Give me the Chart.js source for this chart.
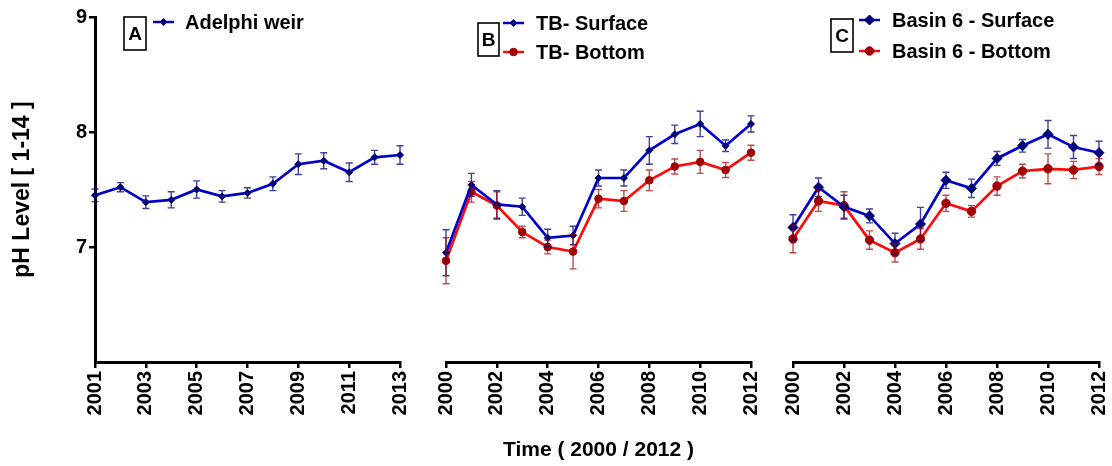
<!DOCTYPE html>
<html>
<head>
<meta charset="utf-8">
<title>pH Level</title>
<script src="https://cdn.jsdelivr.net/npm/chart.js@4.4.1/dist/chart.umd.min.js"></script>
<style>
  html, body { margin: 0; padding: 0; background: #fff; overflow: hidden; }
  #wrap { position: relative; width: 1112px; height: 466px; overflow: hidden; }
  #wrap canvas { position: absolute; left: 0; top: 0; }
</style>
</head>
<body>
<div id="wrap">
  <canvas id="chartA" width="1112" height="466"></canvas>
  <canvas id="chartB" width="1112" height="466"></canvas>
  <canvas id="chartC" width="1140" height="466"></canvas>
</div>
<script>
// years sampled at each site
const yearsA = [2001, 2002, 2003, 2004, 2005, 2006, 2007, 2008, 2009, 2010, 2011, 2012, 2013];
const yearsBC = [2000, 2001, 2002, 2003, 2004, 2005, 2006, 2007, 2008, 2009, 2010, 2011, 2012];

// tick labels
const ticksA = [2001, 2003, 2005, 2007, 2009, 2011, 2013];
const ticksBC = [2000, 2002, 2004, 2006, 2008, 2010, 2012];
const ticksPH = [7, 8, 9];

// A - Adelphi weir (mean pH and error)
const phAdelphi = [7.45, 7.52, 7.39, 7.41, 7.50, 7.44, 7.47, 7.55, 7.72, 7.75, 7.65, 7.78, 7.80];
const errAdelphi = [0.055, 0.04, 0.055, 0.07, 0.075, 0.05, 0.045, 0.06, 0.09, 0.07, 0.08, 0.06, 0.08];

// B - TB surface / bottom
const phTbSurface = [6.95, 7.54, 7.37, 7.35, 7.08, 7.10, 7.60, 7.60, 7.84, 7.98, 8.07, 7.88, 8.07];
const errTbSurface = [0.2, 0.10, 0.12, 0.075, 0.075, 0.08, 0.07, 0.07, 0.12, 0.08, 0.11, 0.05, 0.07];
const phTbBottom = [6.88, 7.48, 7.36, 7.13, 7.00, 6.96, 7.42, 7.40, 7.58, 7.70, 7.74, 7.67, 7.82];
const errTbBottom = [0.2, 0.09, 0.12, 0.05, 0.06, 0.15, 0.08, 0.09, 0.09, 0.065, 0.10, 0.065, 0.065];

// C - Basin 6 surface / bottom
const phBasinSurface = [7.17, 7.52, 7.35, 7.27, 7.03, 7.20, 7.58, 7.51, 7.77, 7.88, 7.98, 7.87, 7.82];
const errBasinSurface = [0.11, 0.08, 0.10, 0.06, 0.09, 0.145, 0.07, 0.08, 0.06, 0.055, 0.12, 0.10, 0.10];
const phBasinBottom = [7.07, 7.40, 7.36, 7.06, 6.95, 7.07, 7.38, 7.31, 7.53, 7.66, 7.68, 7.67, 7.70];
const errBasinBottom = [0.12, 0.09, 0.12, 0.08, 0.08, 0.09, 0.07, 0.05, 0.08, 0.06, 0.13, 0.075, 0.07];

const FONT = "'Liberation Sans', Arial, Helvetica, sans-serif";
Chart.defaults.font.family = FONT;
Chart.defaults.color = '#000';

const BLUE_LINE = '#0000cc';
const BLUE_MARK = '#00007a';
const RED_LINE = '#ff0a0a';
const RED_MARK = '#a00000';

const points = (xs, ys) => xs.map((x, i) => ({ x: x, y: ys[i] }));

// vertical error bars with caps, drawn over the lines
const errorBars = {
  id: 'errorBars',
  afterDatasetsDraw(chart) {
    const ctx = chart.ctx;
    const yScale = chart.scales.y;
    chart.data.datasets.forEach((ds, i) => {
      const meta = chart.getDatasetMeta(i);
      ctx.save();
      ctx.strokeStyle = ds.errorColor;
      ctx.lineWidth = 1.4;
      meta.data.forEach((pt, j) => {
        const v = ds.data[j].y;
        const e = ds.errors[j];
        const top = yScale.getPixelForValue(v + e);
        const bot = yScale.getPixelForValue(v - e);
        ctx.beginPath();
        ctx.moveTo(pt.x, top); ctx.lineTo(pt.x, bot);
        ctx.moveTo(pt.x - 3.5, top); ctx.lineTo(pt.x + 3.5, top);
        ctx.moveTo(pt.x - 3.5, bot); ctx.lineTo(pt.x + 3.5, bot);
        ctx.stroke();
      });
      ctx.restore();
    });
  }
};

// boxed panel letter plus a line/marker key for each series
const panelKey = {
  id: 'panelKey',
  afterDraw(chart, args, opts) {
    const ctx = chart.ctx;
    ctx.save();
    ctx.strokeStyle = '#000';
    ctx.lineWidth = 1.6;
    ctx.strokeRect(opts.box.x, opts.box.y, opts.box.w, opts.box.h);
    ctx.fillStyle = '#000';
    ctx.font = 'bold 19px ' + FONT;
    ctx.textAlign = 'center';
    ctx.textBaseline = 'middle';
    ctx.fillText(opts.letter, opts.box.x + opts.box.w / 2, opts.box.y + opts.box.h / 2 + 1);

    chart.data.datasets.forEach((ds, i) => {
      const y = opts.rows[i];
      ctx.strokeStyle = ds.borderColor;
      ctx.lineWidth = 2.5;
      ctx.beginPath();
      ctx.moveTo(opts.lineX, y);
      ctx.lineTo(opts.lineX + 21, y);
      ctx.stroke();
      ctx.fillStyle = ds.pointBackgroundColor;
      ctx.strokeStyle = ds.pointBorderColor;
      ctx.lineWidth = 1;
      Chart.helpers.drawPoint(ctx, { pointStyle: ds.pointStyle, radius: ds.pointRadius, borderWidth: 1, rotation: 0 }, opts.lineX + 10.5, y);
      ctx.fillStyle = '#000';
      ctx.font = 'bold 20px ' + FONT;
      ctx.textAlign = 'left';
      ctx.textBaseline = 'middle';
      ctx.fillText(ds.label, opts.textX, y + 1);
    });
    ctx.restore();
  }
};

function series(label, xs, ys, errs, lineColor, markColor, style, radius) {
  return {
    label: label,
    data: points(xs, ys),
    errors: errs,
    errorColor: markColor === BLUE_MARK ? 'rgba(0,0,120,0.75)' : 'rgba(160,0,0,0.7)',
    borderColor: lineColor,
    borderWidth: 2.7,
    pointStyle: style,
    pointRadius: radius,
    pointBackgroundColor: markColor,
    pointBorderColor: markColor,
    pointBorderWidth: 1,
    tension: 0,
    clip: false
  };
}

function xAxis(minYear, maxYear, tickYears, title) {
  return {
    type: 'linear',
    min: minYear,
    max: maxYear,
    afterFit: s => { s.height = 104; },
    afterBuildTicks: s => { s.ticks = tickYears.map(v => ({ value: v })); },
    border: { display: true, color: '#000', width: 3 },
    grid: { drawOnChartArea: false, drawTicks: true, tickLength: 6, color: '#000', lineWidth: 2.5 },
    ticks: {
      minRotation: 90, maxRotation: 90, padding: 3, color: '#000',
      font: { size: 20, weight: 'bold' },
      callback: v => String(v)
    },
    title: title ? {
      display: true, text: title, color: '#000',
      font: { size: 21, weight: 'bold' },
      padding: { top: 0, bottom: 3 }
    } : { display: false }
  };
}

function makePanel(id, datasets, xScale, yScale, padding, key) {
  return new Chart(document.getElementById(id), {
    type: 'line',
    data: { datasets: datasets },
    options: {
      responsive: false,
      animation: false,
      events: [],
      layout: { padding: padding },
      plugins: {
        legend: { display: false },
        tooltip: { enabled: false },
        panelKey: key
      },
      scales: { x: xScale, y: yScale }
    },
    plugins: [errorBars, panelKey]
  });
}

const hiddenY = { display: false, min: 6, max: 9 };

makePanel('chartA',
  [series('Adelphi weir', yearsA, phAdelphi, errAdelphi, BLUE_LINE, BLUE_MARK, 'rectRot', 3.5)],
  xAxis(2001, 2013, ticksA, null),
  {
    min: 6, max: 9,
    afterFit: s => { s.width = 95; },
    afterBuildTicks: s => { s.ticks = ticksPH.map(v => ({ value: v })); },
    border: { display: true, color: '#000', width: 3 },
    grid: { drawOnChartArea: false, drawTicks: true, tickLength: 6, color: '#000', lineWidth: 2.5 },
    ticks: { padding: 2, color: '#000', font: { size: 20, weight: 'bold' } },
    title: {
      display: true, text: 'pH Level [ 1-14 ]', color: '#000',
      font: { size: 23, weight: 'bold' },
      padding: { top: 9, bottom: 0 }
    }
  },
  { left: 0, top: 17, right: 712, bottom: 0 },
  { letter: 'A', box: { x: 124, y: 17, w: 22, h: 33 }, lineX: 153, rows: [22], textX: 185 }
);

makePanel('chartB',
  [
    series('TB- Surface', yearsBC, phTbSurface, errTbSurface, BLUE_LINE, BLUE_MARK, 'rectRot', 3.5),
    series('TB- Bottom', yearsBC, phTbBottom, errTbBottom, RED_LINE, RED_MARK, 'circle', 3.8)
  ],
  xAxis(2000, 2012, ticksBC, 'Time ( 2000 / 2012 )'),
  hiddenY,
  { left: 446, top: 17, right: 361, bottom: 0 },
  { letter: 'B', box: { x: 478, y: 23, w: 21, h: 33 }, lineX: 503, rows: [23, 52], textX: 536 }
);

makePanel('chartC',
  [
    series('Basin 6 - Surface', yearsBC, phBasinSurface, errBasinSurface, BLUE_LINE, BLUE_MARK, 'rectRot', 5),
    series('Basin 6 - Bottom', yearsBC, phBasinBottom, errBasinBottom, RED_LINE, RED_MARK, 'circle', 4.2)
  ],
  xAxis(2000, 2012, ticksBC, null),
  hiddenY,
  { left: 793, top: 17, right: 41, bottom: 0 },
  { letter: 'C', box: { x: 831, y: 19, w: 22, h: 33 }, lineX: 859, rows: [20, 51], textX: 892 }
);
</script>
</body>
</html>
